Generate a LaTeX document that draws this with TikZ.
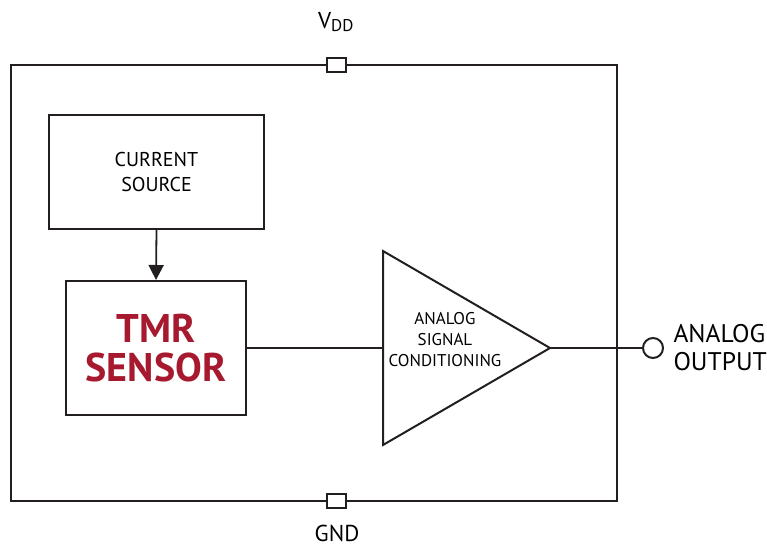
\documentclass[tikz,border=0pt]{standalone}
\usepackage{fontspec}
\setmainfont{PT Sans}
\usepackage{tikz}
\usetikzlibrary{positioning,calc,arrows.meta}

\begin{document}
\begin{tikzpicture}[x=1pt,y=-1pt]
    \definecolor{coltmr}{HTML}{A6192E}
    \definecolor{colline}{HTML}{231F20}
    \tikzstyle{blk}=[draw=colline,line width=2pt,fill=white,inner sep=0pt,align=center]
    \tikzstyle{pin}=[draw=colline,line width=2.4pt,fill=white,inner sep=0pt,
                     minimum width=19pt,minimum height=14pt]
    \tikzstyle{wire}=[colline,line width=1.8pt]
    % frame
    \useasboundingbox (0,0) rectangle (767,546);
    \draw[wire,line width=2pt] (11,65) rectangle (617,501);
    % supply pins
    \node[pin] (vdd) at (336.5,65) {};
    \node[pin] (gnd) at (336.5,501) {};
    \node[font=\fontsize{23}{26}\selectfont] (vddlbl) at (336,22) {V\textsubscript{\fontsize{17}{20}\selectfont DD}};
    \node[font=\fontsize{23}{26}\selectfont] (gndlbl) at (337,533) {GND};
    % blocks
    \node[blk,minimum width=215pt,minimum height=114pt,
          font=\fontsize{20}{25}\selectfont] (src) at (156.5,172) {CURRENT\\SOURCE};
    \node[blk,minimum width=180pt,minimum height=134pt,text=coltmr,
          font=\fontsize{40}{39}\selectfont\bfseries] (tmr) at (156,348) {TMR\\SENSOR};
    % amplifier
    \coordinate (amptop) at (383,251);
    \coordinate (ampbot) at (383,445);
    \coordinate (ampin) at (383,348);
    \coordinate (ampout) at (550,348);
    \draw[wire,line width=2pt,line join=miter] (amptop) -- (ampout) -- (ampbot) -- cycle;
    \node[align=center,font=\fontsize{17}{21}\selectfont] (amplbl) at (445,340) {ANALOG\\SIGNAL\\CONDITIONING};
    % output
    \node[circle,draw=colline,line width=2pt,fill=white,minimum size=20pt,inner sep=0pt] (out) at (653,348) {};
    \node[anchor=west,align=left,font=\fontsize{25.5}{28}\selectfont] (outlbl) at ([xshift=6pt]out.east) {ANALOG\\OUTPUT};
    % connections
    \draw[wire,-{Triangle[length=15pt,width=15pt]}] (src.south) -- (tmr.north);
    \draw[wire] (tmr.east) -- (ampin);
    \draw[wire] (ampout) -- (out.west);
\end{tikzpicture}
\end{document}
